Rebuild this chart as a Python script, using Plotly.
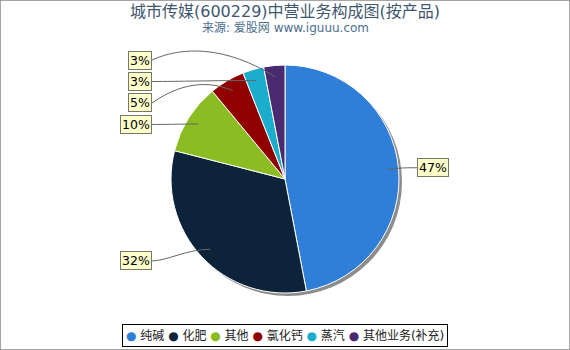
import math
import plotly.graph_objects as go

categories = ["纯碱", "化肥", "其他", "氯化钙", "蒸汽", "其他业务(补充)"]
values = [47, 32, 10, 5, 3, 3]
colors = ["#2f7ed8", "#0d233a", "#8bbc21", "#910000", "#1aadce", "#492970"]

W, H = 570, 350
cx, cy, r = 285, 179, 114

def px(x):
    return x / W

def py(y):
    return 1 - y / H

fig = go.Figure()

# shadow
sh = 3
fig.add_trace(go.Pie(
    values=[1], marker=dict(colors=["rgba(0,0,0,0.45)"], line=dict(width=0)),
    textinfo="none", hoverinfo="skip", showlegend=False, sort=False,
    domain=dict(x=[px(cx - r + sh), px(cx + r + sh)], y=[py(cy + r + sh), py(cy - r + sh)]),
))

fig.add_trace(go.Pie(
    labels=categories, values=values, sort=False, direction="clockwise", rotation=0,
    marker=dict(colors=colors, line=dict(color="white", width=1)),
    textinfo="none", showlegend=False,
    domain=dict(x=[px(cx - r), px(cx + r)], y=[py(cy + r), py(cy - r)]),
))

# label layout
total = sum(values)
cum = 0
labs = []
for v, c in zip(values, categories):
    mid = (cum + v / 2) / total * 2 * math.pi
    cum += v
    sx, sy = math.sin(mid), -math.cos(mid)
    ax, ay = cx + 0.9 * r * sx, cy + 0.9 * r * sy
    ny = cy + 1.05 * r * sy
    labs.append(dict(pct=round(v / total * 100), ax=ax, ay=ay, ny=ny, right=sx >= 0))

for side in (True, False):
    items = sorted([l for l in labs if l["right"] == side], key=lambda l: l["ny"])
    prev = None
    for l in items:
        y = max(l["ny"], 60)
        if prev is not None:
            y = max(y, prev + 21.5)
        l["y"] = y
        prev = y

annotations = []
shapes = []
for l in labs:
    if l["right"]:
        ex = 417
        anchor = "left"
    else:
        ex = 152
        anchor = "right"
    annotations.append(dict(
        x=px(ex), y=py(l["y"]), xref="paper", yref="paper", xanchor=anchor, yanchor="middle",
        text=f"{l['pct']}%", showarrow=False, font=dict(size=12.5, color="black", family="DejaVu Sans"),
        bgcolor="#ffffcc", bordercolor="#777766", borderwidth=1, borderpad=1,
    ))
    lx, ly = ex, l["y"]
    dx = l["ax"] - lx
    top = min(ly, l["ay"])
    h = 0 if abs(l["ay"] - ly) < 12 else 14
    p1 = (lx + 0.25 * dx, ly - h)
    p2 = (lx + 0.6 * dx, top - h)
    path = (f"M {px(lx)},{py(ly)} C {px(p1[0])},{py(p1[1])} {px(p2[0])},{py(p2[1])} "
            f"{px(l['ax'])},{py(l['ay'])}")
    shapes.append(dict(type="path", path=path, xref="paper", yref="paper",
                       line=dict(color="#666666", width=1)))

# outer frame
shapes.append(dict(type="rect", xref="paper", yref="paper", x0=0, y0=0, x1=1, y1=1,
                   line=dict(color="#888888", width=1.5)))

annotations.append(dict(x=0.5, y=py(12), xref="paper", yref="paper", xanchor="center", yanchor="middle",
                        text="城市传媒(600229)中营业务构成图(按产品)", showarrow=False,
                        font=dict(size=16, color="#3e576f", family="DejaVu Sans, Noto Sans CJK SC")))
annotations.append(dict(x=0.5, y=py(28), xref="paper", yref="paper", xanchor="center", yanchor="middle",
                        text="来源: 爱股网 www.iguuu.com", showarrow=False,
                        font=dict(size=12, color="#4d6d8f", family="DejaVu Sans, Noto Sans CJK SC")))

# legend as a boxed text line with coloured circle glyphs
legend_text = " ".join(f"<span style='color:{col}'>●</span> {c}" for c, col in zip(categories, colors))
annotations.append(dict(x=0.5, y=py(335.5), xref="paper", yref="paper", xanchor="center", yanchor="middle",
                        text=legend_text, showarrow=False, bgcolor="white", bordercolor="black",
                        borderwidth=1, borderpad=3,
                        font=dict(size=12, color="#222222", family="DejaVu Sans, Noto Sans CJK SC")))

fig.update_layout(
    width=W, height=H, margin=dict(l=0, r=0, t=0, b=0),
    paper_bgcolor="white", plot_bgcolor="white",
    showlegend=False,
    annotations=annotations, shapes=shapes,
)

fig.write_html("out.html")
